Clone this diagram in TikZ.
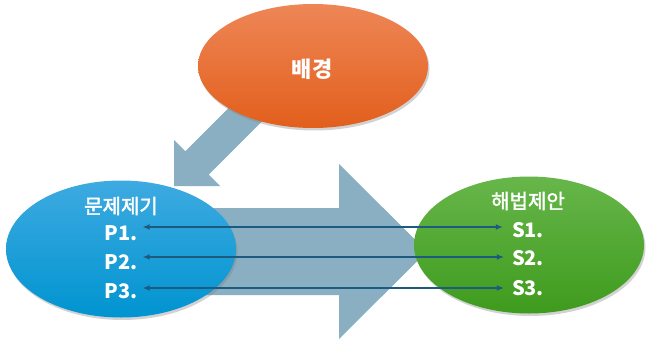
\documentclass[tikz,border=0pt]{standalone}
\usepackage{fontspec}
\setmainfont{Noto Sans CJK KR}
\newfontfamily\krmed[FakeBold=2]{Noto Sans CJK KR}
\usetikzlibrary{shapes.geometric,arrows.meta,shadows}
\definecolor{arrowfill}{HTML}{8AAFC2}
\definecolor{linecol}{HTML}{1C5A80}
\definecolor{orT}{HTML}{EE8656}
\definecolor{orB}{HTML}{E25F1C}
\definecolor{blT}{HTML}{3EAAE1}
\definecolor{blB}{HTML}{0094D0}
\definecolor{grT}{HTML}{67B64A}
\definecolor{grB}{HTML}{3E9B1D}
\tikzset{
  bubble/.style={ellipse, inner sep=0pt, minimum width=230pt, minimum height=#1,
    drop shadow={opacity=0.35, shadow xshift=1.5pt, shadow yshift=-2.5pt}},
  lbl/.style={text=white, inner sep=0pt, font=\krmed\fontsize{20}{24}\selectfont},
  item/.style={text=white, inner sep=0pt, font=\fontsize{20}{24}\selectfont\bfseries},
  conn/.style={draw=linecol, line width=1.4pt, {Latex[length=7pt,width=6pt]}-{Latex[length=7pt,width=6pt]}},
  bigarrow/.style={fill=arrowfill, draw=none}
}
\begin{document}
\begin{tikzpicture}[x=1pt,y=-1pt]
\useasboundingbox[fill=white] (0,0) rectangle (650,340);
% big horizontal arrow
\fill[bigarrow] (150,208) -- (339,208) -- (339,164) -- (427,251.5) -- (339,339) -- (339,295) -- (150,295) -- cycle;
% diagonal arrow
\fill[bigarrow] (174,186) -- (174,140) -- (185.3,151.3) -- (277.2,59.4) -- (300.6,82.8) -- (208.7,174.7) -- (220,186) -- cycle;
% ellipses
\node[bubble=124pt, top color=orT, bottom color=orB] (bg) at (313,66) {};
\node[bubble=137pt, top color=blT, bottom color=blB] (prob) at (121,249) {};
\node[bubble=137pt, top color=grT, bottom color=grB] (sol) at (529,245) {};
% texts
\node[item, font=\fontsize{22}{26}\selectfont\bfseries] (bgt) at (312,69) {배경};
\node[lbl] (pt) at (121,206) {문제제기};
\node[item] (p1) at (121,233) {P1.};
\node[item] (p2) at (121,262) {P2.};
\node[item] (p3) at (121,291) {P3.};
\node[lbl] (st) at (528,201) {해법제안};
\node[item] (s1) at (528,230) {S1.};
\node[item] (s2) at (528,258) {S2.};
\node[item] (s3) at (528,288) {S3.};
% connector end points
\path (p1.east |- 0,227) ++(5,0) coordinate (a1);
\path (p2.east |- 0,257) ++(5,0) coordinate (a2);
\path (p3.east |- 0,288) ++(5,0) coordinate (a3);
\path (s1.west |- 0,227) ++(-9,0) coordinate (b1);
\path (s2.west |- 0,257) ++(-8,0) coordinate (b2);
\path (s3.west |- 0,288) ++(-8,0) coordinate (b3);
% connectors
\draw[conn] (a1) -- (b1);
\draw[conn] (a2) -- (b2);
\draw[conn] (a3) -- (b3);
\end{tikzpicture}
\end{document}
